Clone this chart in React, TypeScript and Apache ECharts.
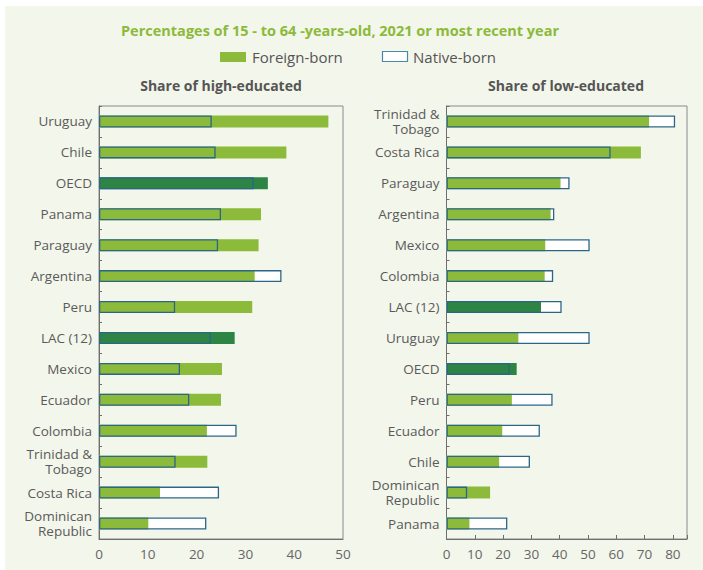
import React, { useEffect, useRef } from "react";
import * as echarts from "echarts";

const highCategories = ["Uruguay", "Chile", "OECD", "Panama", "Paraguay", "Argentina", "Peru", "LAC (12)", "Mexico", "Ecuador", "Colombia", "Trinidad &\nTobago", "Costa Rica", "Dominican\nRepublic"];
const highForeign = [47.0, 38.4, 34.6, 33.2, 32.7, 31.9, 31.4, 27.8, 25.2, 25.0, 22.1, 22.2, 12.5, 10.1];
const highNative = [23.1, 23.9, 31.7, 25.0, 24.4, 37.4, 15.6, 22.9, 16.6, 18.5, 28.2, 15.7, 24.6, 22.0];

const lowCategories = ["Trinidad &\nTobago", "Costa Rica", "Paraguay", "Argentina", "Mexico", "Colombia", "LAC (12)", "Uruguay", "OECD", "Peru", "Ecuador", "Chile", "Dominican\nRepublic", "Panama"];
const lowForeign = [71.6, 68.7, 40.3, 36.8, 34.9, 34.7, 33.4, 25.4, 24.8, 23.1, 19.7, 18.6, 15.4, 8.1];
const lowNative = [80.8, 58.0, 43.5, 38.1, 50.6, 37.7, 40.7, 50.6, 22.4, 37.5, 33.0, 29.5, 7.3, 21.5];

const highTicks = [0, 10, 20, 30, 40, 50];
const lowTicks = [0, 10, 20, 30, 40, 50, 60, 70, 80];

const GREEN = "#8cba3a";
const DARK = "#2e8444";
const OUTLINE = "#2b6687";
const FONT = "'Open Sans', 'Noto Sans', sans-serif";

export default function App() {
  const ref = useRef<HTMLDivElement>(null);
  useEffect(() => {
    document.body.style.margin = "0";
    const chart = echarts.init(ref.current!, null, { renderer: "svg" });
    const fcolor = (cats: string[], vals: number[]) =>
      vals.map((v, i) => ({
        value: v,
        itemStyle: { color: cats[i] === "OECD" || cats[i] === "LAC (12)" ? DARK : GREEN },
      }));
    const grids = [
      { left: 99, top: 106, width: 244, height: 433 },
      { left: 446.5, top: 106, width: 240.5, height: 433 },
    ];
    const mkX = (idx: number, max: number, ticks: number[], showTick: boolean) => ({
      type: "value",
      gridIndex: idx,
      min: 0,
      max,
      interval: 10,
      splitLine: { show: false },
      axisLine: { show: true, lineStyle: { color: "#6f6f6f", width: 1 } },
      axisTick: { show: showTick, inside: true, length: 4, lineStyle: { color: "#6f6f6f" } },
      axisLabel: {
        color: "#666",
        fontSize: 13.5,
        fontFamily: FONT,
        margin: 8,
        formatter: (v: number) => (ticks.indexOf(v) >= 0 ? String(v) : ""),
      },
    });
    const mkY = (idx: number, cats: string[]) => ({
      type: "category",
      gridIndex: idx,
      data: cats,
      inverse: true,
      axisLine: { show: true, lineStyle: { color: "#6f6f6f", width: 1 } },
      axisTick: { show: true, inside: true, length: 3, lineStyle: { color: "#6f6f6f" } },
      axisLabel: {
        color: "#5a5a5a",
        fontSize: 13.5,
        fontFamily: FONT,
        lineHeight: 15,
        margin: 7,
        align: "right",
      },
    });
    const mkSeries = (idx: number, cats: string[], foreign: number[], native: number[]) => [
      {
        type: "bar",
        name: "native-bg",
        xAxisIndex: idx,
        yAxisIndex: idx,
        data: native,
        barWidth: 12,
        barGap: "-100%",
        itemStyle: { color: "#ffffff" },
        z: 1,
        silent: true,
      },
      {
        type: "bar",
        name: "Foreign-born",
        xAxisIndex: idx,
        yAxisIndex: idx,
        data: fcolor(cats, foreign),
        barWidth: 12,
        barGap: "-100%",
        z: 2,
      },
      {
        type: "bar",
        name: "Native-born",
        xAxisIndex: idx,
        yAxisIndex: idx,
        data: native,
        barWidth: 12,
        barGap: "-100%",
        itemStyle: { color: "rgba(0,0,0,0)", borderColor: OUTLINE, borderWidth: 1.3 },
        z: 3,
      },
    ];
    chart.setOption({
      animation: false,
      backgroundColor: "#ffffff",
      grid: grids.map((g) => ({ ...g, show: true, borderColor: "#8a8a8a", borderWidth: 1, backgroundColor: "transparent" })),
      xAxis: [mkX(0, 50, highTicks, false), mkX(1, 85, lowTicks, true)],
      yAxis: [mkY(0, highCategories), mkY(1, lowCategories)],
      series: [...mkSeries(0, highCategories, highForeign, highNative), ...mkSeries(1, lowCategories, lowForeign, lowNative)],
      graphic: [
        { type: "rect", z: -10, shape: { x: 5, y: 6, width: 698, height: 564 }, style: { fill: "#f3f6eb" } },
        {
          type: "text",
          x: 340,
          y: 30,
          style: {
            text: "Percentages of 15 - to 64 -years-old, 2021 or most recent year",
            fill: "#8cba3a",
            font: `bold 14.5px ${FONT}`,
            textAlign: "center",
            textVerticalAlign: "middle",
          },
        },
        { type: "rect", shape: { x: 220, y: 52, width: 26, height: 10 }, style: { fill: GREEN } },
        {
          type: "text",
          x: 252,
          y: 57,
          style: { text: "Foreign-born", fill: "#555", font: `15px ${FONT}`, textVerticalAlign: "middle" },
        },
        { type: "rect", shape: { x: 382.5, y: 51.5, width: 25, height: 10 }, style: { fill: "#ffffff", stroke: "#4b87a6", lineWidth: 1.2 } },
        {
          type: "text",
          x: 413,
          y: 57,
          style: { text: "Native-born", fill: "#555", font: `15px ${FONT}`, textVerticalAlign: "middle" },
        },
        {
          type: "text",
          x: 221,
          y: 85,
          style: { text: "Share of high-educated", fill: "#555", font: `bold 14px ${FONT}`, textAlign: "center", textVerticalAlign: "middle" },
        },
        {
          type: "text",
          x: 566,
          y: 85,
          style: { text: "Share of low-educated", fill: "#555", font: `bold 14px ${FONT}`, textAlign: "center", textVerticalAlign: "middle" },
        },
      ],
    });
    return () => chart.dispose();
  }, []);
  return <div ref={ref} style={{ width: 703, height: 570 }} />;
}
